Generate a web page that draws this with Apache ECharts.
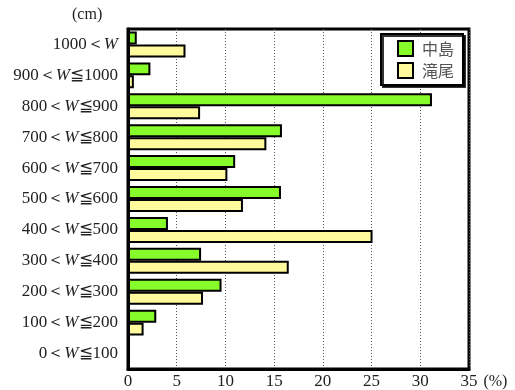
<!DOCTYPE html>
<html>
<head>
<meta charset="utf-8">
<script src="https://cdn.jsdelivr.net/npm/echarts@6/dist/echarts.min.js"></script>
<style>
  html, body { margin: 0; padding: 0; background: #fff; }
  #chart { width: 515px; height: 390px; }
</style>
</head>
<body>
<div id="chart"></div>
<script>
// 幅員区分（下から上）
var lows = ['0', '100', '200', '300', '400', '500', '600', '700', '800', '900', '1000'];
var highs = ['100', '200', '300', '400', '500', '600', '700', '800', '900', '1000', ''];
// 割合（%）
var nakajima = [0, 2.9, 9.6, 7.5, 4.1, 15.7, 11.0, 15.8, 31.2, 2.3, 0.9];
var takio = [0, 1.6, 7.7, 16.5, 25.1, 11.8, 10.2, 14.2, 7.4, 0.6, 5.9];

var categories = lows.map(function (lo, i) {
  return highs[i] ? lo + '＜W≦' + highs[i] : lo + '＜W';
});

var serif = '"Liberation Serif", "Times New Roman", serif';
var chart = echarts.init(document.getElementById('chart'));

var option = {
  animation: false,
  grid: {
    left: 128, right: 46, top: 29, bottom: 21,
    outerBoundsMode: 'none', containLabel: false,
    show: true, borderColor: '#000', borderWidth: 3, backgroundColor: 'transparent'
  },
  legend: {
    data: ['中島', '滝尾'],
    orient: 'vertical',
    left: 381, top: 34,
    icon: 'rect',
    itemWidth: 15, itemHeight: 15, itemGap: 5,
    padding: [6, 9, 6, 16],
    backgroundColor: '#fff',
    borderColor: '#000', borderWidth: 2,
    shadowColor: 'rgba(0,0,0,0.8)', shadowOffsetX: 2, shadowOffsetY: 2, shadowBlur: 0,
    textStyle: { fontSize: 16, color: '#555', fontFamily: '"Noto Sans CJK JP", sans-serif', padding: [0, 0, 0, 4] },
    itemStyle: { borderColor: '#000', borderWidth: 2 }
  },
  graphic: [{
    type: 'text', left: 72, top: 7,
    style: { text: '(cm)', font: '16px ' + serif, fill: '#222' }
  }],
  xAxis: {
    type: 'value', min: 0, max: 35, interval: 5,
    name: '(%)', nameLocation: 'end', nameGap: 13,
    nameTextStyle: { fontSize: 16, fontFamily: serif, color: '#222', verticalAlign: 'top', padding: [5, 0, 0, 0] },
    axisLine: { show: true, lineStyle: { color: '#000', width: 3 } },
    axisTick: { show: false },
    axisLabel: { fontSize: 17, fontFamily: serif, color: '#222', margin: 4 },
    splitLine: { show: true, lineStyle: { color: '#555', type: [1, 2], width: 1 } }
  },
  yAxis: {
    type: 'category', data: categories,
    axisLine: { show: true, lineStyle: { color: '#000', width: 3 } },
    axisTick: { show: false },
    axisLabel: {
      margin: 10,
      formatter: function (v) {
        var p = v.split('W');
        return '{n|' + p[0] + '}{i|W}{n|' + p[1] + '}';
      },
      rich: {
        n: { fontSize: 17, fontFamily: serif, color: '#222' },
        i: { fontSize: 17, fontFamily: serif, fontStyle: 'italic', color: '#222' }
      }
    }
  },
  series: [
    {
      name: '中島', type: 'bar', data: nakajima,
      barGap: '0%', barCategoryGap: '16%',
      itemStyle: { color: '#86fb2a', borderColor: '#000', borderWidth: 2 }
    },
    {
      name: '滝尾', type: 'bar', data: takio,
      barGap: '0%', barCategoryGap: '16%',
      itemStyle: { color: '#fffa9c', borderColor: '#000', borderWidth: 2 }
    }
  ]
};
chart.setOption(option);
</script>
</body>
</html>
